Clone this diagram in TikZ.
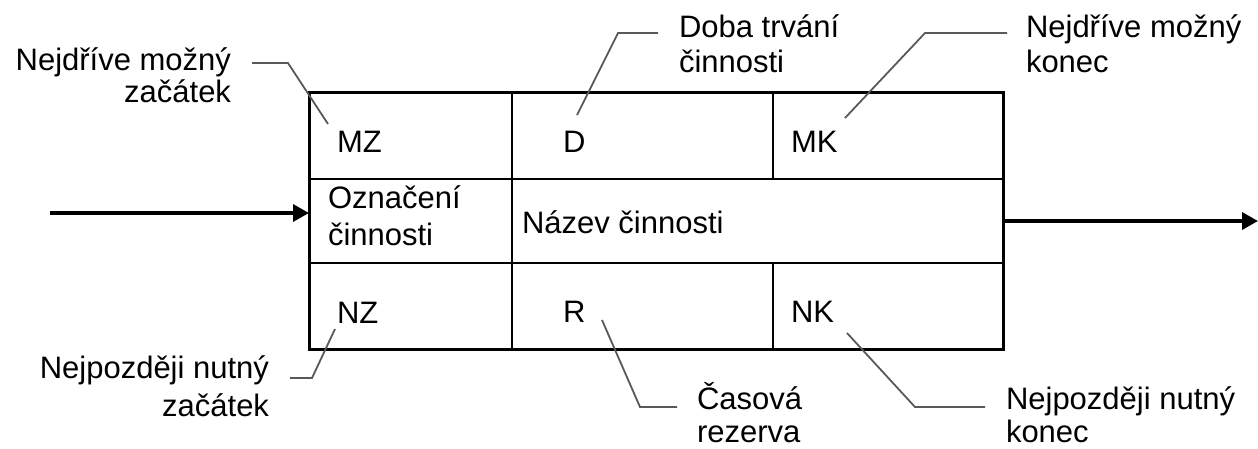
\documentclass[tikz,border=0pt]{standalone}
\usepackage{fontspec}
\setmainfont{Liberation Sans}
\usetikzlibrary{arrows.meta}
\begin{document}
\begin{tikzpicture}[x=1pt,y=-1pt,
  txt/.style={inner sep=0pt, outer sep=0pt, font=\fontsize{31}{36}\selectfont},
  lw/.style={txt, anchor=base west},
  le/.style={txt, anchor=base east},
  frame/.style={draw, line width=3pt, inner sep=0pt, outer sep=0pt, anchor=north west},
  grid/.style={line width=2pt},
  leader/.style={draw=black!65, line width=1.8pt},
  flow/.style={line width=3.5pt, -{Triangle[length=16pt,width=17pt]}}]
\useasboundingbox (0,0) rectangle (1258,448);

% main box
\node[frame, minimum width=694pt, minimum height=257pt] (box) at (309,92) {};
\coordinate (r1) at (0,179);
\coordinate (r2) at (0,263);
\coordinate (c1) at (512,0);
\coordinate (c2) at (773,0);
\draw[grid] (r1 -| box.west) -- (r1 -| box.east);
\draw[grid] (r2 -| box.west) -- (r2 -| box.east);
\draw[grid] (c1 |- box.north) -- (c1 |- box.south);
\draw[grid] (c2 |- box.north) -- (c2 |- r1);
\draw[grid] (c2 |- r2) -- (c2 |- box.south);

% cell texts
\node[lw] (mz) at (337,152) {MZ};
\node[lw] (d) at (563,152) {D};
\node[lw] (mk) at (791,152) {MK};
\node[lw] (oz1) at (328,208) {Označení};
\node[lw] (oz2) at (328,245) {činnosti};
\node[lw] (naz) at (522,233) {Název činnosti};
\node[lw] (nz) at (337,323) {NZ};
\node[lw] (r) at (563,322) {R};
\node[lw] (nk) at (791,322) {NK};

% flow arrows
\coordinate (in) at (50,213);
\coordinate (out) at (1258,221);
\draw[flow] (in) -- (in -| box.west);
\draw[flow] (out -| box.east) -- (out);

% outer labels
\node[le] (lmz1) at (231,70) {Nejdříve možný};
\node[le] (lmz2) at (231,102) {začátek};
\node[lw] (ld1) at (679,37) {Doba trvání};
\node[lw] (ld2) at (679,72) {činnosti};
\node[lw] (lmk1) at (1026,37) {Nejdříve možný};
\node[lw] (lmk2) at (1026,72) {konec};
\node[le] (lnz1) at (269,378) {Nejpozději nutný};
\node[le] (lnz2) at (269,416) {začátek};
\node[lw] (lr1) at (697,409) {Časová};
\node[lw] (lr2) at (697,442) {rezerva};
\node[lw] (lnk1) at (1006,409) {Nejpozději nutný};
\node[lw] (lnk2) at (1006,442) {konec};

% leader lines
\coordinate (a1) at (252,63);  \coordinate (b1) at (288,63);  \coordinate (e1) at (328,124);
\coordinate (a2) at (658,33);  \coordinate (b2) at (618,33);  \coordinate (e2) at (577,115);
\coordinate (a3) at (1007,33); \coordinate (b3) at (925,33);  \coordinate (e3) at (845,118);
\coordinate (a4) at (290,378); \coordinate (b4) at (312,378); \coordinate (e4) at (335,329);
\coordinate (a5) at (677,407); \coordinate (b5) at (640,407); \coordinate (e5) at (602,320);
\coordinate (a6) at (985,407); \coordinate (b6) at (915,407); \coordinate (e6) at (847,333);
\draw[leader] (a1) -- (b1) -- (e1);
\draw[leader] (a2) -- (b2) -- (e2);
\draw[leader] (a3) -- (b3) -- (e3);
\draw[leader] (a4) -- (b4) -- (e4);
\draw[leader] (a5) -- (b5) -- (e5);
\draw[leader] (a6) -- (b6) -- (e6);
\end{tikzpicture}
\end{document}
